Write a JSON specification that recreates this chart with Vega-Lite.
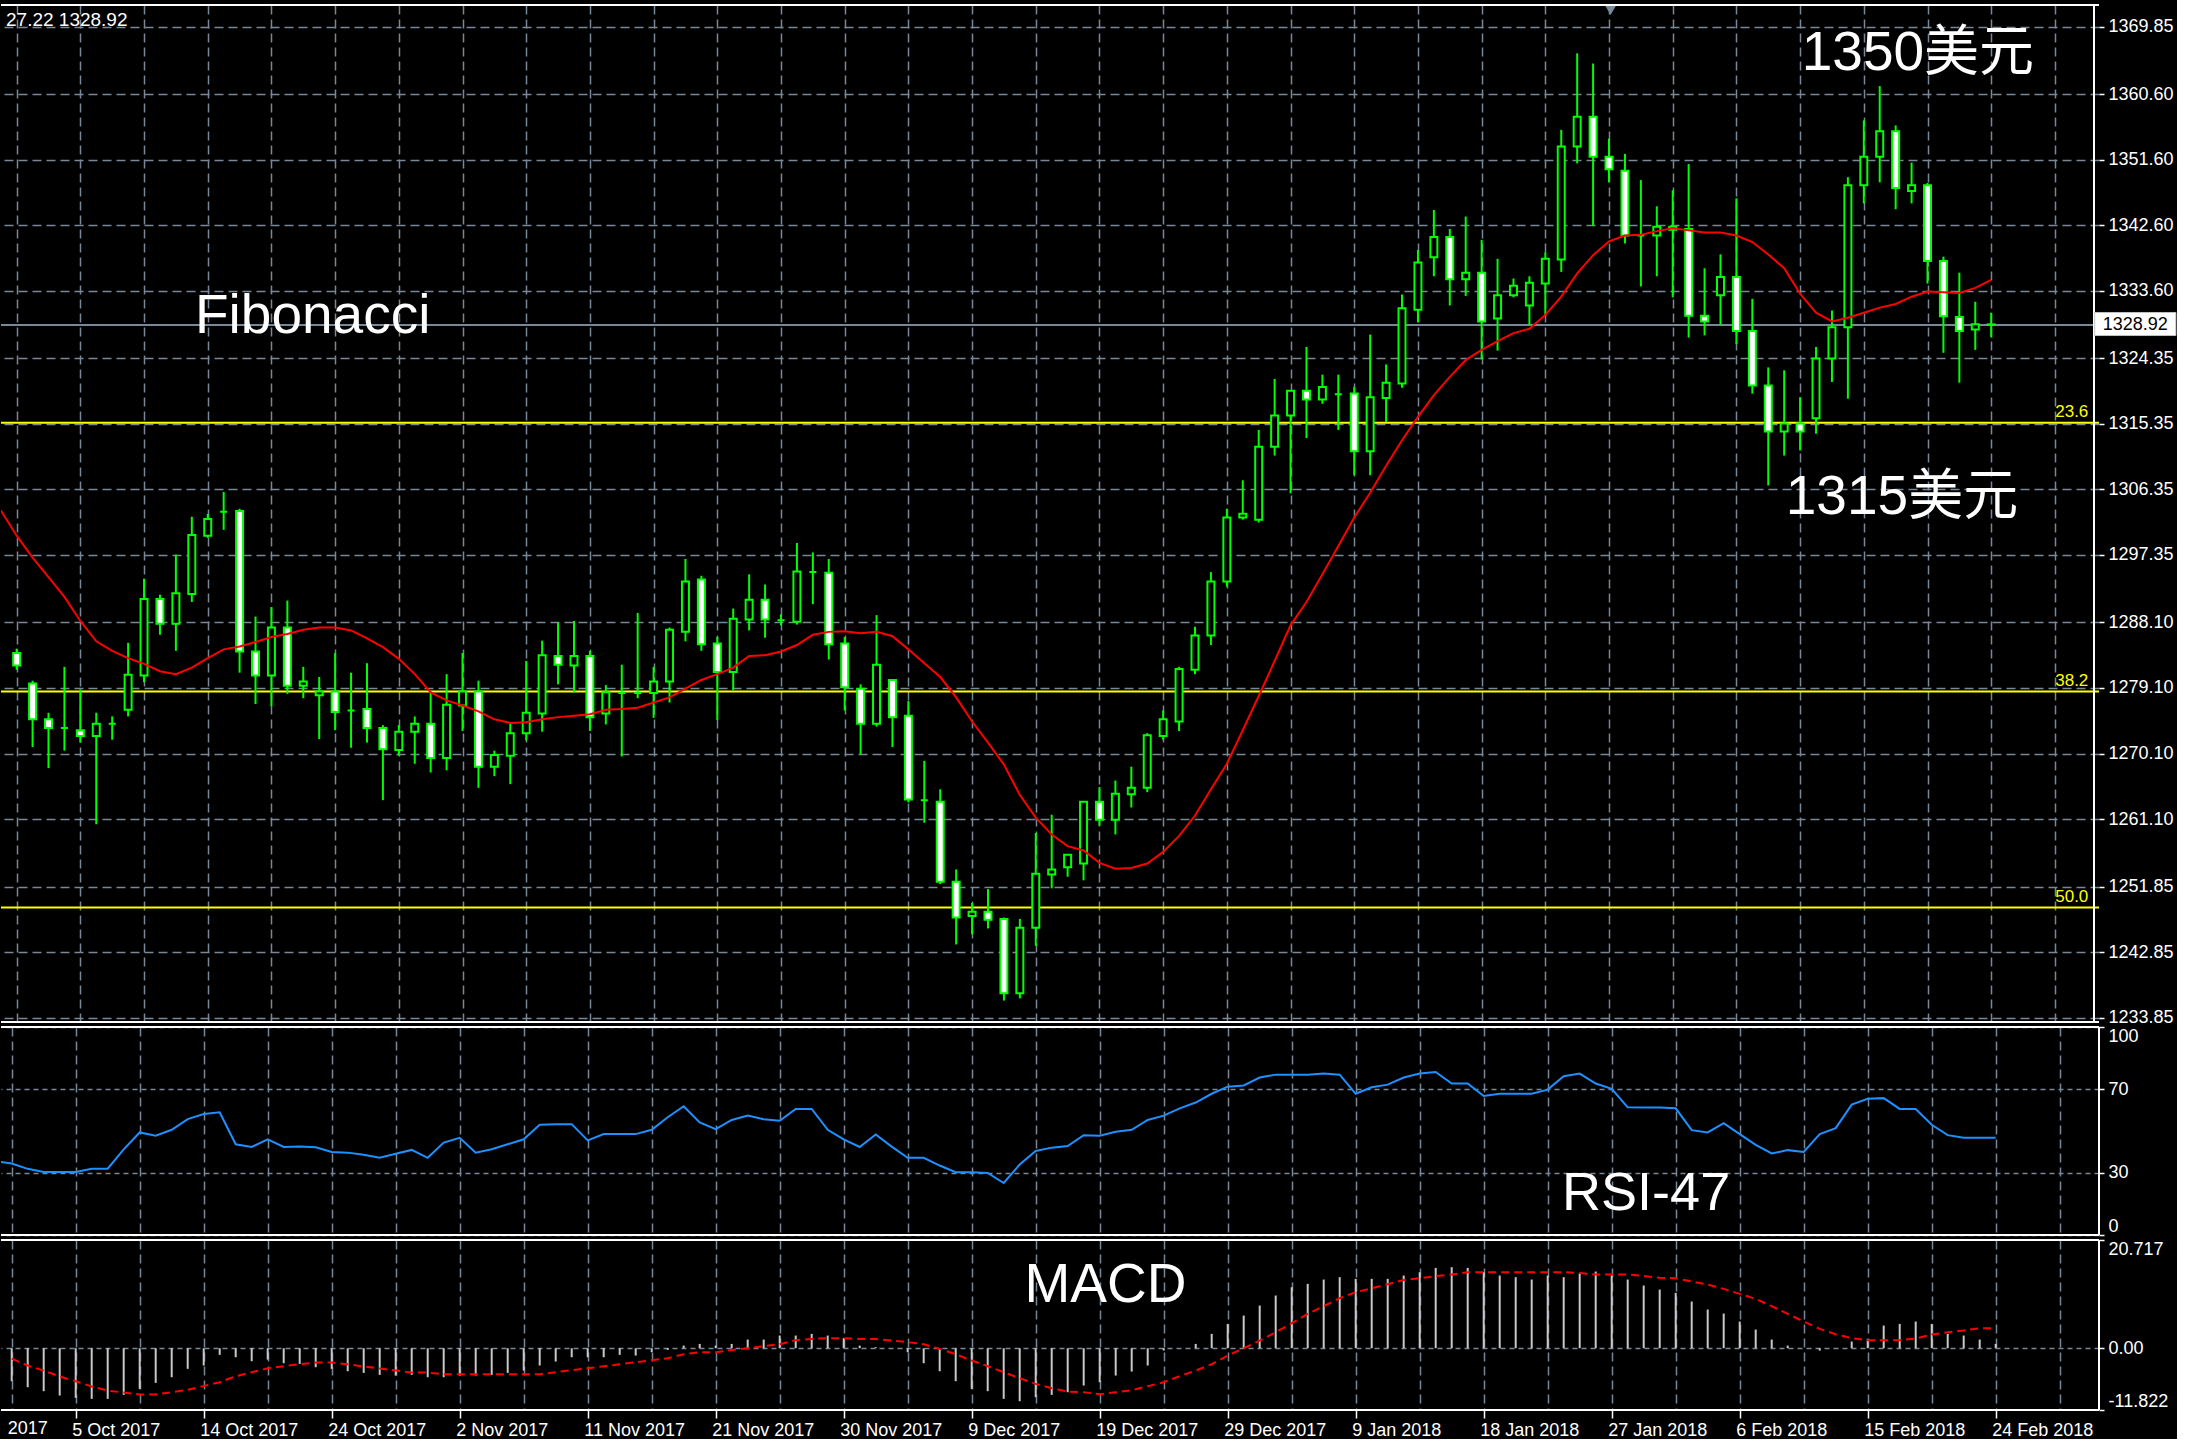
{
  "$schema": "https://vega.github.io/schema/vega-lite/v6.json",
  "background": "#000000",
  "padding": {"left": 0, "top": 4, "right": 0, "bottom": 0},
  "spacing": 5,
  "bounds": "flush",
  "config": {
    "view": {"stroke": null},
    "axis": {"labelFont": "Liberation Sans", "labelColor": "#ffffff", "labelFontSize": 18, "tickColor": "#ffffff", "tickWidth": 1.5, "domain": false, "gridColor": "#778899", "gridDash": [9, 5], "gridWidth": 1.5, "gridOpacity": 1, "labelOverlap": false},
    "text": {"font": "Liberation Sans, Noto Sans CJK SC", "color": "#ffffff"}
  },
  "datasets": {
    "candles": [
      {"i":0,"open":1283.9,"high":1284.5,"low":1281.6,"close":1282.2},
      {"i":1,"open":1279.7,"high":1280.1,"low":1271.0,"close":1274.8},
      {"i":2,"open":1274.8,"high":1275.7,"low":1268.1,"close":1273.6},
      {"i":3,"open":1273.6,"high":1282.0,"low":1270.5,"close":1273.6},
      {"i":4,"open":1273.3,"high":1278.9,"low":1271.6,"close":1272.5},
      {"i":5,"open":1272.5,"high":1275.7,"low":1260.4,"close":1274.2},
      {"i":6,"open":1274.2,"high":1275.2,"low":1272.0,"close":1274.2},
      {"i":7,"open":1276.1,"high":1285.3,"low":1275.2,"close":1280.9},
      {"i":8,"open":1280.8,"high":1294.1,"low":1279.9,"close":1291.3},
      {"i":9,"open":1291.3,"high":1291.9,"low":1286.4,"close":1287.9},
      {"i":10,"open":1287.9,"high":1297.4,"low":1284.2,"close":1292.1},
      {"i":11,"open":1292.0,"high":1302.6,"low":1290.9,"close":1300.1},
      {"i":12,"open":1300.0,"high":1303.0,"low":1299.7,"close":1302.3},
      {"i":13,"open":1303.3,"high":1306.0,"low":1300.8,"close":1303.3},
      {"i":14,"open":1303.4,"high":1303.7,"low":1281.2,"close":1284.1},
      {"i":15,"open":1284.1,"high":1288.9,"low":1276.9,"close":1280.8},
      {"i":16,"open":1280.8,"high":1290.2,"low":1276.6,"close":1287.4},
      {"i":17,"open":1287.4,"high":1291.1,"low":1278.3,"close":1279.4},
      {"i":18,"open":1279.4,"high":1282.0,"low":1277.7,"close":1280.0},
      {"i":19,"open":1278.1,"high":1280.6,"low":1272.1,"close":1278.6},
      {"i":20,"open":1278.6,"high":1283.9,"low":1273.3,"close":1275.8},
      {"i":21,"open":1276.0,"high":1281.2,"low":1270.9,"close":1276.0},
      {"i":22,"open":1276.2,"high":1282.5,"low":1271.6,"close":1273.6},
      {"i":23,"open":1273.6,"high":1274.0,"low":1263.7,"close":1270.7},
      {"i":24,"open":1270.6,"high":1274.0,"low":1269.8,"close":1273.1},
      {"i":25,"open":1273.1,"high":1275.2,"low":1268.7,"close":1274.2},
      {"i":26,"open":1274.2,"high":1278.7,"low":1267.5,"close":1269.5},
      {"i":27,"open":1269.5,"high":1281.0,"low":1267.8,"close":1276.8},
      {"i":28,"open":1276.7,"high":1283.9,"low":1273.2,"close":1278.6},
      {"i":29,"open":1278.6,"high":1280.1,"low":1265.4,"close":1268.3},
      {"i":30,"open":1268.3,"high":1270.5,"low":1267.0,"close":1269.9},
      {"i":31,"open":1269.8,"high":1274.3,"low":1265.9,"close":1272.9},
      {"i":32,"open":1272.9,"high":1282.8,"low":1271.9,"close":1275.7},
      {"i":33,"open":1275.6,"high":1285.6,"low":1273.1,"close":1283.6},
      {"i":34,"open":1283.5,"high":1288.1,"low":1279.6,"close":1282.3},
      {"i":35,"open":1282.2,"high":1288.3,"low":1278.5,"close":1283.5},
      {"i":36,"open":1283.5,"high":1284.2,"low":1273.2,"close":1275.1},
      {"i":37,"open":1275.6,"high":1279.5,"low":1274.1,"close":1278.5},
      {"i":38,"open":1278.4,"high":1282.3,"low":1269.7,"close":1278.4},
      {"i":39,"open":1278.4,"high":1289.4,"low":1277.7,"close":1278.4},
      {"i":40,"open":1278.4,"high":1282.0,"low":1275.0,"close":1280.0},
      {"i":41,"open":1280.0,"high":1287.4,"low":1277.1,"close":1287.1},
      {"i":42,"open":1286.8,"high":1296.8,"low":1285.5,"close":1293.7},
      {"i":43,"open":1294.0,"high":1294.5,"low":1284.2,"close":1285.1},
      {"i":44,"open":1285.2,"high":1286.1,"low":1274.7,"close":1281.3},
      {"i":45,"open":1281.3,"high":1290.0,"low":1278.8,"close":1288.6},
      {"i":46,"open":1288.5,"high":1294.7,"low":1287.0,"close":1291.2},
      {"i":47,"open":1291.2,"high":1293.3,"low":1286.0,"close":1288.5},
      {"i":48,"open":1288.4,"high":1289.2,"low":1287.7,"close":1288.4},
      {"i":49,"open":1288.2,"high":1299.0,"low":1287.8,"close":1295.1},
      {"i":50,"open":1295.0,"high":1297.7,"low":1290.6,"close":1295.0},
      {"i":51,"open":1294.9,"high":1296.8,"low":1283.0,"close":1285.1},
      {"i":52,"open":1285.2,"high":1286.1,"low":1276.0,"close":1279.2},
      {"i":53,"open":1279.0,"high":1279.6,"low":1270.0,"close":1274.2},
      {"i":54,"open":1274.2,"high":1289.1,"low":1273.8,"close":1282.3},
      {"i":55,"open":1280.2,"high":1280.2,"low":1271.0,"close":1275.1},
      {"i":56,"open":1275.3,"high":1277.3,"low":1263.4,"close":1263.8},
      {"i":57,"open":1263.7,"high":1269.1,"low":1260.6,"close":1263.7},
      {"i":58,"open":1263.5,"high":1265.2,"low":1252.2,"close":1252.5},
      {"i":59,"open":1252.5,"high":1254.2,"low":1243.9,"close":1247.6},
      {"i":60,"open":1247.8,"high":1249.6,"low":1245.3,"close":1248.4},
      {"i":61,"open":1248.4,"high":1251.5,"low":1246.1,"close":1247.3},
      {"i":62,"open":1247.4,"high":1247.6,"low":1236.2,"close":1237.2},
      {"i":63,"open":1237.2,"high":1247.4,"low":1236.5,"close":1246.2},
      {"i":64,"open":1246.2,"high":1259.2,"low":1243.7,"close":1253.6},
      {"i":65,"open":1253.5,"high":1261.7,"low":1251.6,"close":1254.2},
      {"i":66,"open":1254.5,"high":1256.2,"low":1253.2,"close":1256.2},
      {"i":67,"open":1255.0,"high":1263.5,"low":1252.7,"close":1263.5},
      {"i":68,"open":1263.5,"high":1265.5,"low":1260.2,"close":1261.0},
      {"i":69,"open":1261.0,"high":1266.4,"low":1259.0,"close":1264.6},
      {"i":70,"open":1264.5,"high":1268.3,"low":1262.7,"close":1265.4},
      {"i":71,"open":1265.4,"high":1272.9,"low":1264.8,"close":1272.6},
      {"i":72,"open":1272.5,"high":1276.0,"low":1272.0,"close":1274.8},
      {"i":73,"open":1274.5,"high":1282.0,"low":1273.2,"close":1281.7},
      {"i":74,"open":1281.6,"high":1287.5,"low":1281.0,"close":1286.3},
      {"i":75,"open":1286.3,"high":1295.0,"low":1285.0,"close":1293.7},
      {"i":76,"open":1293.7,"high":1303.7,"low":1293.0,"close":1302.5},
      {"i":77,"open":1302.5,"high":1307.6,"low":1302.2,"close":1303.0},
      {"i":78,"open":1302.2,"high":1314.5,"low":1301.8,"close":1312.2},
      {"i":79,"open":1312.2,"high":1321.5,"low":1311.0,"close":1316.5},
      {"i":80,"open":1316.5,"high":1319.9,"low":1305.8,"close":1319.9},
      {"i":81,"open":1319.9,"high":1325.9,"low":1313.4,"close":1318.7},
      {"i":82,"open":1318.7,"high":1322.1,"low":1318.1,"close":1320.4},
      {"i":83,"open":1319.4,"high":1322.1,"low":1314.5,"close":1319.4},
      {"i":84,"open":1319.5,"high":1320.4,"low":1308.3,"close":1311.6},
      {"i":85,"open":1311.6,"high":1327.6,"low":1308.3,"close":1319.0},
      {"i":86,"open":1318.9,"high":1323.5,"low":1315.6,"close":1321.0},
      {"i":87,"open":1320.9,"high":1333.1,"low":1320.3,"close":1331.2},
      {"i":88,"open":1331.0,"high":1339.2,"low":1329.3,"close":1337.5},
      {"i":89,"open":1338.2,"high":1344.7,"low":1335.6,"close":1341.0},
      {"i":90,"open":1341.0,"high":1342.1,"low":1331.6,"close":1335.2},
      {"i":91,"open":1335.2,"high":1343.8,"low":1332.9,"close":1336.1},
      {"i":92,"open":1336.1,"high":1340.6,"low":1324.2,"close":1329.4},
      {"i":93,"open":1329.8,"high":1338.0,"low":1325.4,"close":1333.0},
      {"i":94,"open":1333.0,"high":1335.3,"low":1332.7,"close":1334.3},
      {"i":95,"open":1331.6,"high":1335.6,"low":1328.9,"close":1334.7},
      {"i":96,"open":1334.6,"high":1338.9,"low":1330.2,"close":1338.0},
      {"i":97,"open":1337.9,"high":1355.7,"low":1336.2,"close":1353.4},
      {"i":98,"open":1353.4,"high":1366.2,"low":1351.1,"close":1357.5},
      {"i":99,"open":1357.5,"high":1364.8,"low":1342.5,"close":1352.0},
      {"i":100,"open":1352.0,"high":1354.5,"low":1348.5,"close":1350.3},
      {"i":101,"open":1350.1,"high":1352.4,"low":1340.1,"close":1341.2},
      {"i":102,"open":1341.2,"high":1348.8,"low":1334.2,"close":1341.2},
      {"i":103,"open":1341.2,"high":1345.2,"low":1335.6,"close":1342.4},
      {"i":104,"open":1342.0,"high":1347.4,"low":1332.7,"close":1342.4},
      {"i":105,"open":1342.1,"high":1351.0,"low":1327.2,"close":1330.2},
      {"i":106,"open":1330.2,"high":1336.7,"low":1327.5,"close":1329.4},
      {"i":107,"open":1333.0,"high":1338.6,"low":1328.9,"close":1335.5},
      {"i":108,"open":1335.5,"high":1346.3,"low":1326.3,"close":1328.1},
      {"i":109,"open":1328.1,"high":1332.5,"low":1319.5,"close":1320.6},
      {"i":110,"open":1320.6,"high":1323.1,"low":1306.9,"close":1314.3},
      {"i":111,"open":1314.3,"high":1322.7,"low":1311.0,"close":1315.4},
      {"i":112,"open":1315.4,"high":1319.0,"low":1311.7,"close":1314.3},
      {"i":113,"open":1316.1,"high":1325.9,"low":1314.0,"close":1324.3},
      {"i":114,"open":1324.3,"high":1330.9,"low":1321.1,"close":1328.6},
      {"i":115,"open":1328.6,"high":1349.2,"low":1318.8,"close":1348.1},
      {"i":116,"open":1348.1,"high":1357.0,"low":1345.6,"close":1352.0},
      {"i":117,"open":1352.0,"high":1361.7,"low":1348.5,"close":1355.5},
      {"i":118,"open":1355.5,"high":1356.3,"low":1344.8,"close":1347.7},
      {"i":119,"open":1347.3,"high":1351.2,"low":1345.6,"close":1348.1},
      {"i":120,"open":1348.1,"high":1348.4,"low":1334.6,"close":1337.7},
      {"i":121,"open":1337.7,"high":1338.3,"low":1325.1,"close":1330.1},
      {"i":122,"open":1330.0,"high":1336.1,"low":1321.0,"close":1328.1},
      {"i":123,"open":1328.3,"high":1332.1,"low":1325.5,"close":1329.0},
      {"i":124,"open":1329.0,"high":1330.6,"low":1327.2,"close":1328.92}
    ],
    "ma": [
      {"i":-1,"ma":1303.5},{"i":0,"ma":1300.0},{"i":1,"ma":1297.0},{"i":2,"ma":1294.3},{"i":3,"ma":1291.6},{"i":4,"ma":1288.3},{"i":5,"ma":1285.5},{"i":6,"ma":1284.2},{"i":7,"ma":1283.2},{"i":8,"ma":1282.4},{"i":9,"ma":1281.4},
      {"i":10,"ma":1281.0},{"i":11,"ma":1281.9},{"i":12,"ma":1283.2},{"i":13,"ma":1284.4},{"i":14,"ma":1284.8},{"i":15,"ma":1285.4},{"i":16,"ma":1286.1},{"i":17,"ma":1286.5},{"i":18,"ma":1287.1},{"i":19,"ma":1287.4},
      {"i":20,"ma":1287.4},{"i":21,"ma":1287.0},{"i":22,"ma":1285.9},{"i":23,"ma":1284.7},{"i":24,"ma":1283.1},{"i":25,"ma":1281.0},{"i":26,"ma":1278.5},{"i":27,"ma":1277.4},{"i":28,"ma":1276.7},{"i":29,"ma":1275.9},
      {"i":30,"ma":1274.8},{"i":31,"ma":1274.3},{"i":32,"ma":1274.4},{"i":33,"ma":1274.8},{"i":34,"ma":1275.1},{"i":35,"ma":1275.3},{"i":36,"ma":1275.5},{"i":37,"ma":1276.1},{"i":38,"ma":1276.2},{"i":39,"ma":1276.4},
      {"i":40,"ma":1277.1},{"i":41,"ma":1277.8},{"i":42,"ma":1279.0},{"i":43,"ma":1280.2},{"i":44,"ma":1281.0},{"i":45,"ma":1281.9},{"i":46,"ma":1283.5},{"i":47,"ma":1283.6},{"i":48,"ma":1284.1},{"i":49,"ma":1285.0},
      {"i":50,"ma":1286.4},{"i":51,"ma":1286.8},{"i":52,"ma":1286.9},{"i":53,"ma":1286.6},{"i":54,"ma":1286.8},{"i":55,"ma":1286.2},{"i":56,"ma":1284.4},{"i":57,"ma":1282.5},{"i":58,"ma":1280.6},{"i":59,"ma":1277.8},
      {"i":60,"ma":1274.5},{"i":61,"ma":1271.6},{"i":62,"ma":1268.6},{"i":63,"ma":1264.4},{"i":64,"ma":1261.3},{"i":65,"ma":1259.0},{"i":66,"ma":1257.4},{"i":67,"ma":1256.8},{"i":68,"ma":1255.1},{"i":69,"ma":1254.3},
      {"i":70,"ma":1254.4},{"i":71,"ma":1255.0},{"i":72,"ma":1256.6},{"i":73,"ma":1258.8},{"i":74,"ma":1261.6},{"i":75,"ma":1265.2},{"i":76,"ma":1268.7},{"i":77,"ma":1273.3},{"i":78,"ma":1278.0},{"i":79,"ma":1282.8},
      {"i":80,"ma":1287.7},{"i":81,"ma":1290.9},{"i":82,"ma":1294.7},{"i":83,"ma":1298.6},{"i":84,"ma":1302.5},{"i":85,"ma":1305.9},{"i":86,"ma":1309.6},{"i":87,"ma":1313.1},{"i":88,"ma":1316.3},{"i":89,"ma":1319.3},
      {"i":90,"ma":1321.8},{"i":91,"ma":1324.1},{"i":92,"ma":1325.5},{"i":93,"ma":1326.7},{"i":94,"ma":1327.8},{"i":95,"ma":1328.4},{"i":96,"ma":1330.3},{"i":97,"ma":1332.8},{"i":98,"ma":1336.0},{"i":99,"ma":1338.5},
      {"i":100,"ma":1340.4},{"i":101,"ma":1341.2},{"i":102,"ma":1341.3},{"i":103,"ma":1341.8},{"i":104,"ma":1342.2},{"i":105,"ma":1341.9},{"i":106,"ma":1341.6},{"i":107,"ma":1341.6},{"i":108,"ma":1341.2},{"i":109,"ma":1340.3},
      {"i":110,"ma":1338.6},{"i":111,"ma":1336.7},{"i":112,"ma":1333.2},{"i":113,"ma":1330.6},{"i":114,"ma":1329.4},{"i":115,"ma":1329.9},{"i":116,"ma":1330.6},{"i":117,"ma":1331.3},{"i":118,"ma":1331.8},{"i":119,"ma":1332.8},
      {"i":120,"ma":1333.5},{"i":121,"ma":1333.4},{"i":122,"ma":1333.3},{"i":123,"ma":1334.0},{"i":124,"ma":1335.1}
    ],
    "rsi": [
      {"i":-1,"rsi":35.5},{"i":0,"rsi":34.4},{"i":1,"rsi":31.8},{"i":2,"rsi":30.3},{"i":3,"rsi":30.3},{"i":4,"rsi":30.3},{"i":5,"rsi":31.9},{"i":6,"rsi":31.9},{"i":7,"rsi":41.2},{"i":8,"rsi":49.3},{"i":9,"rsi":47.7},
      {"i":10,"rsi":50.6},{"i":11,"rsi":55.7},{"i":12,"rsi":58.2},{"i":13,"rsi":59.0},{"i":14,"rsi":43.6},{"i":15,"rsi":42.3},{"i":16,"rsi":46.0},{"i":17,"rsi":42.3},{"i":18,"rsi":42.6},{"i":19,"rsi":42.2},
      {"i":20,"rsi":39.9},{"i":21,"rsi":39.6},{"i":22,"rsi":38.6},{"i":23,"rsi":37.1},{"i":24,"rsi":39.1},{"i":25,"rsi":40.9},{"i":26,"rsi":37.1},{"i":27,"rsi":44.4},{"i":28,"rsi":46.7},{"i":29,"rsi":39.6},
      {"i":30,"rsi":41.2},{"i":31,"rsi":43.6},{"i":32,"rsi":46.0},{"i":33,"rsi":53.0},{"i":34,"rsi":53.3},{"i":35,"rsi":53.3},{"i":36,"rsi":45.5},{"i":37,"rsi":48.5},{"i":38,"rsi":48.5},{"i":39,"rsi":48.5},
      {"i":40,"rsi":50.6},{"i":41,"rsi":56.6},{"i":42,"rsi":61.9},{"i":43,"rsi":54.1},{"i":44,"rsi":50.9},{"i":45,"rsi":55.3},{"i":46,"rsi":57.4},{"i":47,"rsi":55.7},{"i":48,"rsi":54.9},{"i":49,"rsi":60.6},
      {"i":50,"rsi":60.6},{"i":51,"rsi":50.6},{"i":52,"rsi":46.0},{"i":53,"rsi":42.3},{"i":54,"rsi":48.3},{"i":55,"rsi":42.5},{"i":56,"rsi":37.1},{"i":57,"rsi":37.1},{"i":58,"rsi":33.4},{"i":59,"rsi":30.2},
      {"i":60,"rsi":30.2},{"i":61,"rsi":29.8},{"i":62,"rsi":25.0},{"i":63,"rsi":33.9},{"i":64,"rsi":40.4},{"i":65,"rsi":42.0},{"i":66,"rsi":42.8},{"i":67,"rsi":48.0},{"i":68,"rsi":47.7},{"i":69,"rsi":49.6},
      {"i":70,"rsi":50.6},{"i":71,"rsi":55.3},{"i":72,"rsi":57.4},{"i":73,"rsi":60.9},{"i":74,"rsi":63.7},{"i":75,"rsi":67.9},{"i":76,"rsi":71.3},{"i":77,"rsi":71.9},{"i":78,"rsi":75.7},{"i":79,"rsi":77.1},
      {"i":80,"rsi":77.1},{"i":81,"rsi":77.0},{"i":82,"rsi":77.6},{"i":83,"rsi":77.1},{"i":84,"rsi":67.9},{"i":85,"rsi":71.0},{"i":86,"rsi":72.3},{"i":87,"rsi":75.7},{"i":88,"rsi":77.6},{"i":89,"rsi":78.4},
      {"i":90,"rsi":72.8},{"i":91,"rsi":72.8},{"i":92,"rsi":66.8},{"i":93,"rsi":67.9},{"i":94,"rsi":67.9},{"i":95,"rsi":67.9},{"i":96,"rsi":69.9},{"i":97,"rsi":76.3},{"i":98,"rsi":77.6},{"i":99,"rsi":72.8},
      {"i":100,"rsi":70.3},{"i":101,"rsi":61.4},{"i":102,"rsi":61.3},{"i":103,"rsi":61.3},{"i":104,"rsi":60.9},{"i":105,"rsi":50.4},{"i":106,"rsi":49.3},{"i":107,"rsi":53.8},{"i":108,"rsi":48.5},{"i":109,"rsi":43.3},
      {"i":110,"rsi":39.2},{"i":111,"rsi":40.8},{"i":112,"rsi":39.9},{"i":113,"rsi":48.5},{"i":114,"rsi":51.4},{"i":115,"rsi":62.7},{"i":116,"rsi":65.5},{"i":117,"rsi":65.8},{"i":118,"rsi":60.6},{"i":119,"rsi":60.6},
      {"i":120,"rsi":53.0},{"i":121,"rsi":48.0},{"i":122,"rsi":46.8},{"i":123,"rsi":46.8},{"i":124,"rsi":46.8}
    ],
    "macd": [
      {"i":0,"macd":-6.31,"signal":-2.0},{"i":1,"macd":-7.46,"signal":-3.31},{"i":2,"macd":-8.22,"signal":-4.27},{"i":3,"macd":-9.05,"signal":-5.42},{"i":4,"macd":-9.5,"signal":-6.31},
      {"i":5,"macd":-9.69,"signal":-7.33},{"i":6,"macd":-9.69,"signal":-8.1},{"i":7,"macd":-8.93,"signal":-8.48},{"i":8,"macd":-7.78,"signal":-8.86},{"i":9,"macd":-6.63,"signal":-8.86},
      {"i":10,"macd":-5.54,"signal":-8.42},{"i":11,"macd":-3.95,"signal":-7.97},{"i":12,"macd":-3.31,"signal":-7.21},{"i":13,"macd":-1.27,"signal":-6.5},{"i":14,"macd":-1.72,"signal":-5.35},
      {"i":15,"macd":-2.48,"signal":-4.59},{"i":16,"macd":-2.17,"signal":-3.83},{"i":17,"macd":-2.87,"signal":-3.44},{"i":18,"macd":-3.0,"signal":-3.06},{"i":19,"macd":-3.63,"signal":-2.74},
      {"i":20,"macd":-3.95,"signal":-2.74},{"i":21,"macd":-4.4,"signal":-3.06},{"i":22,"macd":-4.72,"signal":-3.5},{"i":23,"macd":-5.1,"signal":-3.89},{"i":24,"macd":-5.23,"signal":-4.27},
      {"i":25,"macd":-5.1,"signal":-4.66},{"i":26,"macd":-5.55,"signal":-4.66},{"i":27,"macd":-5.55,"signal":-4.97},{"i":28,"macd":-5.23,"signal":-4.97},{"i":29,"macd":-5.23,"signal":-4.97},
      {"i":30,"macd":-5.1,"signal":-4.97},{"i":31,"macd":-4.72,"signal":-4.97},{"i":32,"macd":-4.27,"signal":-4.97},{"i":33,"macd":-3.31,"signal":-4.97},{"i":34,"macd":-2.55,"signal":-4.59},
      {"i":35,"macd":-1.72,"signal":-4.2},{"i":36,"macd":-1.72,"signal":-3.83},{"i":37,"macd":-1.72,"signal":-3.44},{"i":38,"macd":-1.27,"signal":-3.06},{"i":39,"macd":-1.4,"signal":-2.67},
      {"i":40,"macd":-0.76,"signal":-2.29},{"i":41,"macd":-0.32,"signal":-1.91},{"i":42,"macd":0.51,"signal":-1.15},{"i":43,"macd":0.83,"signal":-0.77},{"i":44,"macd":0.51,"signal":-0.77},
      {"i":45,"macd":0.83,"signal":-0.34},{"i":46,"macd":1.66,"signal":0.0},{"i":47,"macd":1.66,"signal":0.39},{"i":48,"macd":2.43,"signal":0.77},{"i":49,"macd":2.43,"signal":1.54},
      {"i":50,"macd":2.75,"signal":1.79},{"i":51,"macd":2.43,"signal":1.92},{"i":52,"macd":1.92,"signal":1.92},{"i":53,"macd":0.51,"signal":1.79},{"i":54,"macd":0.19,"signal":1.79},
      {"i":55,"macd":0.0,"signal":1.47},{"i":56,"macd":-0.77,"signal":1.15},{"i":57,"macd":-2.87,"signal":0.77},{"i":58,"macd":-4.4,"signal":-0.12},{"i":59,"macd":-6.31,"signal":-1.14},
      {"i":60,"macd":-7.78,"signal":-2.35},{"i":61,"macd":-8.22,"signal":-3.44},{"i":62,"macd":-9.69,"signal":-4.59},{"i":63,"macd":-10.14,"signal":-5.74},{"i":64,"macd":-9.37,"signal":-6.82},
      {"i":65,"macd":-8.93,"signal":-7.65},{"i":66,"macd":-8.42,"signal":-8.29},{"i":67,"macd":-7.14,"signal":-8.42},{"i":68,"macd":-6.5,"signal":-8.8},{"i":69,"macd":-5.23,"signal":-8.42},
      {"i":70,"macd":-4.46,"signal":-8.03},{"i":71,"macd":-3.31,"signal":-7.27},{"i":72,"macd":-0.44,"signal":-6.5},{"i":73,"macd":0.0,"signal":-5.35},{"i":74,"macd":0.83,"signal":-4.27},
      {"i":75,"macd":2.75,"signal":-3.06},{"i":76,"macd":4.66,"signal":-1.4},{"i":77,"macd":6.26,"signal":0.0},{"i":78,"macd":8.17,"signal":1.47},{"i":79,"macd":10.09,"signal":3.07},
      {"i":80,"macd":11.68,"signal":4.79},{"i":81,"macd":12.32,"signal":6.58},{"i":82,"macd":13.15,"signal":8.04},{"i":83,"macd":13.6,"signal":9.58},{"i":84,"macd":13.28,"signal":10.72},
      {"i":85,"macd":13.28,"signal":11.49},{"i":86,"macd":13.28,"signal":12.26},{"i":87,"macd":13.91,"signal":13.08},{"i":88,"macd":14.55,"signal":13.4},{"i":89,"macd":15.38,"signal":13.79},
      {"i":90,"macd":15.51,"signal":14.11},{"i":91,"macd":15.38,"signal":14.55},{"i":92,"macd":14.55,"signal":14.55},{"i":93,"macd":13.91,"signal":14.55},{"i":94,"macd":13.6,"signal":14.55},
      {"i":95,"macd":13.15,"signal":14.55},{"i":96,"macd":13.91,"signal":14.55},{"i":97,"macd":13.6,"signal":14.55},{"i":98,"macd":14.36,"signal":14.42},{"i":99,"macd":14.68,"signal":14.11},
      {"i":100,"macd":13.91,"signal":14.11},{"i":101,"macd":13.15,"signal":14.11},{"i":102,"macd":12.0,"signal":13.85},{"i":103,"macd":11.23,"signal":13.47},{"i":104,"macd":10.6,"signal":13.4},
      {"i":105,"macd":8.94,"signal":12.77},{"i":106,"macd":7.41,"signal":12.19},{"i":107,"macd":6.64,"signal":11.36},{"i":108,"macd":5.11,"signal":10.41},{"i":109,"macd":3.58,"signal":9.45},
      {"i":110,"macd":1.66,"signal":8.05},{"i":111,"macd":0.51,"signal":6.58},{"i":112,"macd":0.0,"signal":5.11},{"i":113,"macd":-0.45,"signal":3.71},{"i":114,"macd":0.0,"signal":2.69},
      {"i":115,"macd":1.28,"signal":1.92},{"i":116,"macd":1.79,"signal":1.54},{"i":117,"macd":4.34,"signal":1.54},{"i":118,"macd":4.66,"signal":1.54},{"i":119,"macd":5.11,"signal":1.86},
      {"i":120,"macd":4.66,"signal":2.62},{"i":121,"macd":2.75,"signal":3.07},{"i":122,"macd":2.43,"signal":3.39},{"i":123,"macd":1.66,"signal":3.83},{"i":124,"macd":0.83,"signal":3.83}
    ],
    "fib": [
      {"level":"23.6","price":1315.5},
      {"level":"38.2","price":1278.6},
      {"level":"50.0","price":1248.96}
    ],
    "current": [{"price":1328.92}],
    "one": [{}]
  },
  "vconcat": [
    {
      "width": 2098,
      "height": 1017,
      "layer": [
        {
          "data": {"name": "candles"},
          "mark": {"type": "rule", "opacity": 0},
          "encoding": {
            "x": {"field": "i", "type": "quantitative", "scale": {"domain": [-0.669, 130.456], "nice": false, "zero": false}, "axis": {"values": [0,4,8,12,16,20,24,28,32,36,40,44,48,52,56,60,64,68,72,76,80,84,88,92,96,100,104,108,112,116,120,124,128], "labels": false, "ticks": false, "grid": true, "title": null}},
            "y": {"field": "low", "type": "quantitative", "scale": {"domain": [1233.26, 1372.83], "nice": false, "zero": false}, "axis": {"orient": "right", "values": [1233.85,1242.85,1251.85,1261.1,1270.1,1279.1,1288.1,1297.35,1306.35,1315.35,1324.35,1333.6,1342.6,1351.6,1360.6,1369.85], "format": ".2f", "grid": true, "tickSize": 5, "labelPadding": 4, "title": null}},
            "y2": {"field": "high"}
          }
        },
        {
          "data": {"name": "fib"},
          "mark": {"type": "rule", "color": "#ffff00", "strokeWidth": 2},
          "encoding": {
            "y": {"field": "price", "type": "quantitative", "scale": {"domain": [1233.26, 1372.83], "nice": false, "zero": false}}
          }
        },
        {
          "data": {"name": "fib"},
          "mark": {"type": "text", "color": "#ffff00", "fontSize": 17, "align": "right", "baseline": "bottom", "dy": -2},
          "encoding": {
            "x": {"datum": 130.1, "type": "quantitative", "scale": {"domain": [-0.669, 130.456], "nice": false, "zero": false}},
            "y": {"field": "price", "type": "quantitative", "scale": {"domain": [1233.26, 1372.83], "nice": false, "zero": false}},
            "text": {"field": "level"}
          }
        },
        {
          "data": {"name": "current"},
          "mark": {"type": "rule", "color": "#778899", "strokeWidth": 2},
          "encoding": {
            "y": {"field": "price", "type": "quantitative", "scale": {"domain": [1233.26, 1372.83], "nice": false, "zero": false}}
          }
        },
        {
          "data": {"name": "candles"},
          "mark": {"type": "rule", "color": "#00ff00", "strokeWidth": 2},
          "encoding": {
            "x": {"field": "i", "type": "quantitative", "scale": {"domain": [-0.669, 130.456], "nice": false, "zero": false}},
            "y": {"field": "low", "type": "quantitative", "scale": {"domain": [1233.26, 1372.83], "nice": false, "zero": false}},
            "y2": {"field": "high"}
          }
        },
        {
          "data": {"name": "candles"},
          "mark": {"type": "bar", "orient": "vertical", "size": 7, "stroke": "#00ff00", "strokeWidth": 2},
          "encoding": {
            "x": {"field": "i", "type": "quantitative", "scale": {"domain": [-0.669, 130.456], "nice": false, "zero": false}},
            "y": {"field": "open", "type": "quantitative", "scale": {"domain": [1233.26, 1372.83], "nice": false, "zero": false}},
            "y2": {"field": "close"},
            "fill": {"condition": {"test": "datum.close < datum.open", "value": "#ffffff"}, "value": "#000000"}
          }
        },
        {
          "data": {"name": "ma"},
          "mark": {"type": "line", "color": "#ff0000", "strokeWidth": 2, "clip": true},
          "encoding": {
            "x": {"field": "i", "type": "quantitative", "scale": {"domain": [-0.669, 130.456], "nice": false, "zero": false}},
            "y": {"field": "ma", "type": "quantitative", "scale": {"domain": [1233.26, 1372.83], "nice": false, "zero": false}}
          }
        },
        {
          "data": {"name": "one"},
          "mark": {"type": "text", "text": "Fibonacci", "fontSize": 55, "align": "left", "baseline": "alphabetic"},
          "encoding": {
            "x": {"datum": 11.2, "type": "quantitative", "scale": {"domain": [-0.669, 130.456], "nice": false, "zero": false}},
            "y": {"datum": 1327.77, "type": "quantitative", "scale": {"domain": [1233.26, 1372.83], "nice": false, "zero": false}}
          }
        },
        {
          "data": {"name": "one"},
          "mark": {"type": "text", "text": "1350美元", "fontSize": 55, "align": "left", "baseline": "alphabetic"},
          "encoding": {
            "x": {"datum": 112.1, "type": "quantitative", "scale": {"domain": [-0.669, 130.456], "nice": false, "zero": false}},
            "y": {"datum": 1363.9, "type": "quantitative", "scale": {"domain": [1233.26, 1372.83], "nice": false, "zero": false}}
          }
        },
        {
          "data": {"name": "one"},
          "mark": {"type": "text", "text": "1315美元", "fontSize": 55, "align": "left", "baseline": "alphabetic"},
          "encoding": {
            "x": {"datum": 111.1, "type": "quantitative", "scale": {"domain": [-0.669, 130.456], "nice": false, "zero": false}},
            "y": {"datum": 1303.0, "type": "quantitative", "scale": {"domain": [1233.26, 1372.83], "nice": false, "zero": false}}
          }
        },
        {
          "data": {"name": "one"},
          "mark": {"type": "text", "text": "27.22 1328.92", "fontSize": 19, "align": "left", "baseline": "middle"},
          "encoding": {
            "x": {"datum": -0.669, "type": "quantitative", "scale": {"domain": [-0.669, 130.456], "nice": false, "zero": false}},
            "y": {"datum": 1370.77, "type": "quantitative", "scale": {"domain": [1233.26, 1372.83], "nice": false, "zero": false}}
          }
        },
        {
          "data": {"name": "one"},
          "mark": {"type": "point", "shape": "triangle-down", "filled": true, "color": "#778899", "size": 120, "opacity": 1},
          "encoding": {
            "x": {"datum": 100.1, "type": "quantitative", "scale": {"domain": [-0.669, 130.456], "nice": false, "zero": false}},
            "y": {"datum": 1372.1, "type": "quantitative", "scale": {"domain": [1233.26, 1372.83], "nice": false, "zero": false}}
          }
        },
        {
          "data": {"name": "one"},
          "mark": {"type": "rule", "color": "#ffffff", "strokeWidth": 2},
          "encoding": {
            "y": {"datum": 1372.83, "type": "quantitative", "scale": {"domain": [1233.26, 1372.83], "nice": false, "zero": false}}
          }
        },
        {
          "data": {"name": "one"},
          "mark": {"type": "rule", "color": "#ffffff", "strokeWidth": 2},
          "encoding": {
            "y": {"datum": 1233.26, "type": "quantitative", "scale": {"domain": [1233.26, 1372.83], "nice": false, "zero": false}}
          }
        },
        {
          "data": {"name": "one"},
          "mark": {"type": "rule", "color": "#ffffff", "strokeWidth": 2},
          "encoding": {
            "x": {"datum": 130.456, "type": "quantitative", "scale": {"domain": [-0.669, 130.456], "nice": false, "zero": false}}
          }
        },
        {
          "data": {"name": "one"},
          "mark": {"type": "rect", "fill": "#ffffff", "stroke": "#c0c0c0", "strokeWidth": 1},
          "encoding": {
            "x": {"datum": 130.5, "type": "quantitative", "scale": {"domain": [-0.669, 130.456], "nice": false, "zero": false}},
            "x2": {"datum": 135.6},
            "y": {"datum": 1330.63, "type": "quantitative", "scale": {"domain": [1233.26, 1372.83], "nice": false, "zero": false}},
            "y2": {"datum": 1327.47}
          }
        },
        {
          "data": {"name": "one"},
          "mark": {"type": "text", "text": "1328.92", "fontSize": 18, "color": "#000000", "align": "center", "baseline": "middle", "font": "Liberation Sans"},
          "encoding": {
            "x": {"datum": 133.05, "type": "quantitative", "scale": {"domain": [-0.669, 130.456], "nice": false, "zero": false}},
            "y": {"datum": 1328.92, "type": "quantitative", "scale": {"domain": [1233.26, 1372.83], "nice": false, "zero": false}}
          }
        }
      ]
    },
    {
      "width": 2098,
      "height": 208,
      "layer": [
        {
          "data": {"name": "rsi"},
          "mark": {"type": "line", "color": "#1e90ff", "strokeWidth": 2, "clip": true},
          "encoding": {
            "x": {"field": "i", "type": "quantitative", "scale": {"domain": [-0.669, 130.456], "nice": false, "zero": false}, "axis": {"values": [0,4,8,12,16,20,24,28,32,36,40,44,48,52,56,60,64,68,72,76,80,84,88,92,96,100,104,108,112,116,120,124,128], "labels": false, "ticks": false, "grid": true, "title": null}},
            "y": {"field": "rsi", "type": "quantitative", "scale": {"domain": [0, 100], "nice": false, "zero": false}, "axis": {"orient": "right", "values": [0, 30, 70, 100], "grid": true, "gridDash": [5, 4], "tickSize": 5, "labelPadding": 4, "labelFlush": true, "title": null}}
          }
        },
        {
          "data": {"name": "one"},
          "mark": {"type": "text", "text": "RSI-47", "fontSize": 54, "align": "left", "baseline": "alphabetic"},
          "encoding": {
            "x": {"datum": 96.9, "type": "quantitative", "scale": {"domain": [-0.669, 130.456], "nice": false, "zero": false}},
            "y": {"datum": 12, "type": "quantitative", "scale": {"domain": [0, 100], "nice": false, "zero": false}}
          }
        },
        {
          "data": {"name": "one"},
          "mark": {"type": "rule", "color": "#ffffff", "strokeWidth": 2},
          "encoding": {
            "y": {"datum": 100, "type": "quantitative", "scale": {"domain": [0, 100], "nice": false, "zero": false}}
          }
        },
        {
          "data": {"name": "one"},
          "mark": {"type": "rule", "color": "#ffffff", "strokeWidth": 2},
          "encoding": {
            "y": {"datum": 0, "type": "quantitative", "scale": {"domain": [0, 100], "nice": false, "zero": false}}
          }
        },
        {
          "data": {"name": "one"},
          "mark": {"type": "rule", "color": "#ffffff", "strokeWidth": 2},
          "encoding": {
            "x": {"datum": 130.456, "type": "quantitative", "scale": {"domain": [-0.669, 130.456], "nice": false, "zero": false}}
          }
        }
      ]
    },
    {
      "width": 2098,
      "height": 170,
      "layer": [
        {
          "data": {"name": "macd"},
          "mark": {"type": "rule", "color": "#c8c8c8", "strokeWidth": 2},
          "encoding": {
            "x": {"field": "i", "type": "quantitative", "scale": {"domain": [-0.669, 130.456], "nice": false, "zero": false}, "axis": {
              "values": [0,4,8,12,16,20,24,28,32,36,40,44,48,52,56,60,64,68,72,76,80,84,88,92,96,100,104,108,112,116,120,124,128],
              "grid": true,
              "ticks": true,
              "tickSize": 8,
              "tickOpacity": {"condition": {"test": "datum.value % 8 == 4", "value": 1}, "value": 0},
              "labelAlign": "left",
              "labelBaseline": "top",
              "labelOffset": -4,
              "labelPadding": 3,
              "labelFlush": false,
              "labelExpr": "datum.value % 8 == 4 ? ['5 Oct 2017','14 Oct 2017','24 Oct 2017','2 Nov 2017','11 Nov 2017','21 Nov 2017','30 Nov 2017','9 Dec 2017','19 Dec 2017','29 Dec 2017','9 Jan 2018','18 Jan 2018','27 Jan 2018','6 Feb 2018','15 Feb 2018','24 Feb 2018'][(datum.value - 4) / 8] : ''",
              "title": null
            }},
            "y": {"field": "macd", "type": "quantitative", "scale": {"domain": [-11.822, 20.717], "nice": false, "zero": false}, "axis": {
              "orient": "right",
              "values": [-11.822, 0, 20.717],
              "labelExpr": "datum.value > 10 ? '20.717' : (datum.value < -10 ? '-11.822' : '0.00')",
              "labelFlush": true,
              "grid": true,
              "gridDash": [5, 4],
              "gridOpacity": {"condition": {"test": "datum.value == 0", "value": 1}, "value": 0},
              "tickSize": 5,
              "labelPadding": 4,
              "title": null
            }},
            "y2": {"datum": 0}
          }
        },
        {
          "data": {"name": "macd"},
          "mark": {"type": "line", "color": "#ff0000", "strokeWidth": 2, "strokeDash": [8, 5]},
          "encoding": {
            "x": {"field": "i", "type": "quantitative", "scale": {"domain": [-0.669, 130.456], "nice": false, "zero": false}},
            "y": {"field": "signal", "type": "quantitative", "scale": {"domain": [-11.822, 20.717], "nice": false, "zero": false}}
          }
        },
        {
          "data": {"name": "one"},
          "mark": {"type": "text", "text": "MACD", "fontSize": 55, "align": "left", "baseline": "alphabetic"},
          "encoding": {
            "x": {"datum": 63.3, "type": "quantitative", "scale": {"domain": [-0.669, 130.456], "nice": false, "zero": false}},
            "y": {"datum": 8.94, "type": "quantitative", "scale": {"domain": [-11.822, 20.717], "nice": false, "zero": false}}
          }
        },
        {
          "data": {"name": "one"},
          "mark": {"type": "text", "text": "2017", "fontSize": 18, "align": "left", "baseline": "middle", "font": "Liberation Sans"},
          "encoding": {
            "x": {"datum": -0.25, "type": "quantitative", "scale": {"domain": [-0.669, 130.456], "nice": false, "zero": false}},
            "y": {"datum": -15.46, "type": "quantitative", "scale": {"domain": [-11.822, 20.717], "nice": false, "zero": false}}
          }
        },
        {
          "data": {"name": "one"},
          "mark": {"type": "rule", "color": "#ffffff", "strokeWidth": 2},
          "encoding": {
            "y": {"datum": 20.717, "type": "quantitative", "scale": {"domain": [-11.822, 20.717], "nice": false, "zero": false}}
          }
        },
        {
          "data": {"name": "one"},
          "mark": {"type": "rule", "color": "#ffffff", "strokeWidth": 2},
          "encoding": {
            "y": {"datum": -11.822, "type": "quantitative", "scale": {"domain": [-11.822, 20.717], "nice": false, "zero": false}}
          }
        },
        {
          "data": {"name": "one"},
          "mark": {"type": "rule", "color": "#ffffff", "strokeWidth": 2},
          "encoding": {
            "x": {"datum": 130.456, "type": "quantitative", "scale": {"domain": [-0.669, 130.456], "nice": false, "zero": false}}
          }
        }
      ]
    }
  ]
}
